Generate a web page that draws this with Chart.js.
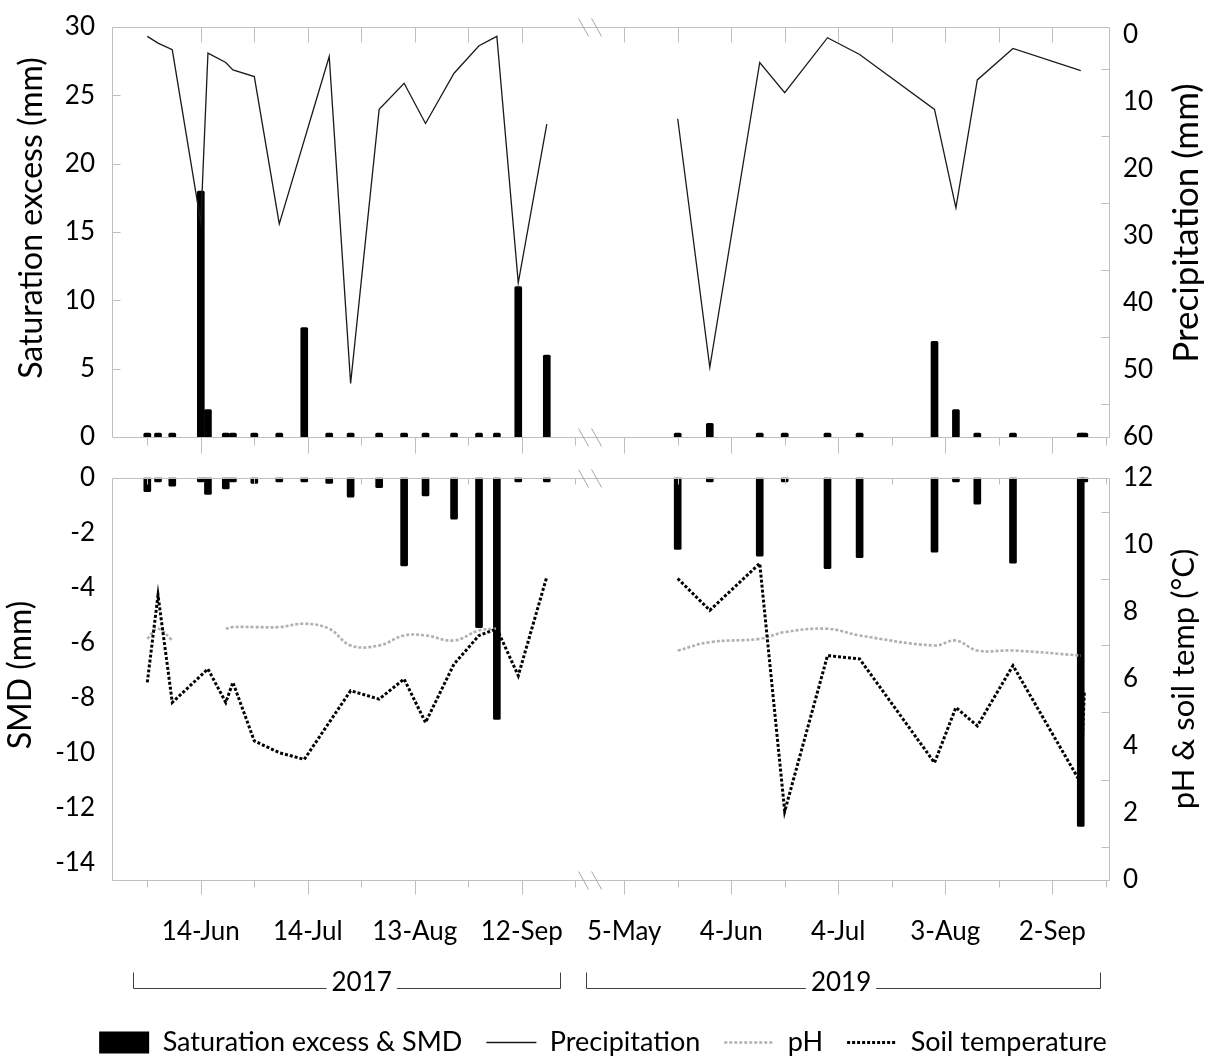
<!DOCTYPE html>
<html lang="en">
<head>
<meta charset="UTF-8">
<title>Saturation excess, SMD, precipitation, pH and soil temperature</title>
<script src="https://cdn.jsdelivr.net/npm/chart.js@4.4.1/dist/chart.umd.min.js"></script>
<style>
    body { margin: 0; background: #fff; overflow: hidden; }
    canvas { position: absolute; left: 0; }
    #topPanel { top: 0; }
    #bottomPanel { top: 460px; }
</style>
</head>
<body>
<canvas id="topPanel" width="1206" height="460"></canvas>
<canvas id="bottomPanel" width="1206" height="620"></canvas>
<script>
// sampling dates and readings, 2017 season
const dates2017 = ['2017-05-30', '2017-06-02', '2017-06-06', '2017-06-14', '2017-06-16', '2017-06-21', '2017-06-23',
    '2017-06-29', '2017-07-06', '2017-07-13', '2017-07-20', '2017-07-26', '2017-08-03', '2017-08-10',
    '2017-08-16', '2017-08-24', '2017-08-31', '2017-09-05', '2017-09-11', '2017-09-19'];
const saturation2017 = [0, 0, 0, 18, 2, 0, 0, 0, 0, 8, 0, 0, 0, 0, 0, 0, 0, 0, 11, 6];
const smd2017 = [-0.5, -0.1, -0.3, -0.1, -0.6, -0.4, -0.1, -0.2, -0.1, -0.1, -0.2, -0.7, -0.35, -3.2, -0.65, -1.5, -5.45, -8.8, -0.1, -0.1];
const precip2017 = [0.2, 1.2, 2.2, 28, 2.7, 4.1, 5.2, 6.2, 28.2, null, 3.2, 52, 11.1, 7.2, 13.2, 5.7, 1.6, 0.2, 37, 13.3];
const ph2017 = [7.2, 7.5, 7.15, null, null, 7.5, 7.55, 7.55, 7.55, 7.65, 7.5, 7.0, 7.0, 7.3, 7.3, 7.15, 7.45, 7.5, null, null];
const soilTemp2017 = [5.9, 8.5, 5.3, null, 6.3, 5.3, 5.9, 4.15, 3.8, 3.6, null, 5.65, 5.4, 6.0, 4.7, 6.45, 7.3, 7.5, 6.1, 9.05];

// 2019 season
const dates2019 = ['2019-05-20', '2019-05-29', '2019-06-12', '2019-06-19', '2019-07-01', '2019-07-10', '2019-07-31',
    '2019-08-06', '2019-08-12', '2019-08-22', '2019-09-10', '2019-09-11'];
const saturation2019 = [0, 1, 0, 0, 0, 0, 7, 2, 0, 0, 0, 0];
const smd2019 = [-2.6, -0.1, -2.85, -0.1, -3.3, -2.9, -2.7, -0.1, -0.95, -3.1, -12.7, -0.1];
const precip2019 = [12.5, 49.6, 4.1, 8.6, 0.4, 2.9, 11.1, 25.8, 6.7, 2.0, 5.3, null];
const ph2019 = [6.85, 7.1, 7.2, 7.4, 7.5, 7.3, 7.0, 7.15, 6.85, 6.85, 6.7, null];
const soilTemp2019 = [9.0, 8.05, 9.45, 2.05, 6.7, 6.6, 3.5, 5.15, 4.6, 6.4, 2.9, 5.6];

const tickLabels2017 = ['14-Jun', '14-Jul', '13-Aug', '12-Sep'];
const tickLabels2019 = ['5-May', '4-Jun', '4-Jul', '3-Aug', '2-Sep'];
const satTicks = [0, 5, 10, 15, 20, 25, 30];
const precipTicks = [0, 10, 20, 30, 40, 50, 60];
const smdTicks = [0, -2, -4, -6, -8, -10, -12, -14];
const tempTicks = [0, 2, 4, 6, 8, 10, 12];

// x axis is in days; 2019 is shifted to sit right after the break
const ORIGIN_2017 = '2017-06-14';
const ORIGIN_2019 = '2019-05-05';
const SHIFT_2019 = 118.7;
const BREAK_AT = 109;
const X_MIN = -24.9, X_MAX = 254.9;

const GREY = '#bfbfbf';
const PH_GREY = '#b0b0b0';
const FONT = 'Lato, "Open Sans", sans-serif';
Chart.defaults.font.family = FONT;
Chart.defaults.font.size = 26;
Chart.defaults.color = '#000';

function days(d, origin) {
    return Math.round((Date.parse(d) - Date.parse(origin)) / 86400000);
}
const x2017 = dates2017.map(d => days(d, ORIGIN_2017));
const x2019 = dates2019.map(d => SHIFT_2019 + days(d, ORIGIN_2019));

function points(vals17, vals19, dropGaps) {
    let a = vals17.map((v, i) => ({ x: x2017[i], y: v }));
    let b = vals19.map((v, i) => ({ x: x2019[i], y: v }));
    if (dropGaps) {
        a = a.filter(p => p.y !== null);
        b = b.filter(p => p.y !== null);
    }
    return a.concat([{ x: BREAK_AT, y: null }], b);
}

// tick marks every 15 days, labels every 30
const xTicks = [];
for (let k = -1; k <= 7; k++) {
    xTicks.push({ value: k * 15, label: (k >= 0 && k % 2 === 0) ? tickLabels2017[k / 2] : '' });
}
for (let k = 0; k <= 9; k++) {
    xTicks.push({ value: SHIFT_2019 + k * 15, label: k % 2 === 0 ? tickLabels2019[k / 2] : '' });
}

const yearBrackets = [
    { label: '2017', from: -19, to: 100.7, textAt: 45.1 },
    { label: '2019', from: 108, to: 252.1, textAt: 179.5 }
];

function rotatedText(ctx, text, x, y, size) {
    ctx.save();
    ctx.font = size + 'px ' + FONT;
    ctx.fillStyle = '#000';
    ctx.textAlign = 'center';
    ctx.textBaseline = 'middle';
    ctx.translate(x, y);
    ctx.rotate(-Math.PI / 2);
    ctx.fillText(text, 0, 0);
    ctx.restore();
}

// frame, small tick marks, axis break, axis titles and year brackets
const panelDecor = {
    id: 'panelDecor',
    afterDraw(chart, args, opts) {
        const { ctx, chartArea: a, scales } = chart;
        const xs = scales.x;
        const L = Math.round(a.left) + 0.5, R = Math.round(a.right) - 0.5;
        const T = Math.round(a.top) + 0.5, B = Math.round(a.bottom) + 0.5;
        ctx.save();
        ctx.strokeStyle = GREY;
        ctx.lineWidth = 1;
        ctx.beginPath();
        ctx.rect(L, T, R - L, B - T);
        xTicks.forEach(t => {
            const px = Math.round(xs.getPixelForValue(t.value)) + 0.5;
            ctx.moveTo(px, B);
            ctx.lineTo(px, B + (t.label ? opts.majorTick : opts.minorTick));
            if (opts.topTicks === 'all' && t.value >= 0 && t.value !== 105 && t.value < 250) {
                ctx.moveTo(px, T);
                ctx.lineTo(px, T + 15);
            } else if (opts.topTicks === 'minor' && !t.label) {
                ctx.moveTo(px, T);
                ctx.lineTo(px, T + 6);
            }
        });
        (opts.innerTicks || []).forEach(it => {
            const s = scales[it.axis];
            it.values.forEach(v => {
                const py = Math.round(s.getPixelForValue(v)) + 0.5;
                if (it.side === 'left') { ctx.moveTo(L, py); ctx.lineTo(L + 8, py); }
                else { ctx.moveTo(R - 8, py); ctx.lineTo(R, py); }
            });
        });
        ctx.stroke();

        // break marks
        const bx = xs.getPixelForValue(BREAK_AT);
        ctx.strokeStyle = '#a6a6a6';
        ctx.beginPath();
        [T, B].forEach(y => {
            [-6, 7].forEach(dx => {
                ctx.moveTo(bx + dx - 5, y - 9);
                ctx.lineTo(bx + dx + 5, y + 9);
            });
        });
        ctx.stroke();

        // axis titles, both reading bottom to top
        const mid = (a.top + a.bottom) / 2;
        opts.titles.forEach(t => rotatedText(ctx, t.text, t.x, mid + t.dy, t.size));

        // year brackets under the date labels
        if (opts.years) {
            const y = opts.years.y + 0.5;
            ctx.font = '26px ' + FONT;
            ctx.fillStyle = '#000';
            ctx.textAlign = 'center';
            ctx.textBaseline = 'middle';
            ctx.strokeStyle = '#404040';
            ctx.beginPath();
            yearBrackets.forEach(yb => {
                const x0 = Math.round(xs.getPixelForValue(yb.from)) + 0.5;
                const x1 = Math.round(xs.getPixelForValue(yb.to)) + 0.5;
                const xt = xs.getPixelForValue(yb.textAt);
                const w = ctx.measureText(yb.label).width;
                ctx.moveTo(x0, y - 16); ctx.lineTo(x0, y); ctx.lineTo(xt - w / 2 - 5, y);
                ctx.moveTo(xt + w / 2 + 5, y); ctx.lineTo(x1, y); ctx.lineTo(x1, y - 16);
                ctx.fillText(yb.label, xt, y - 6);
            });
            ctx.stroke();
        }
        ctx.restore();
    }
};

// tick labels are pushed off the axis with tickLength (marks hidden), not ticks.padding,
// so the label padding does not eat into the plot area
function yAxis(position, extra) {
    return Object.assign({
        position: position,
        grid: { display: false, drawTicks: true, tickLength: position === 'left' ? 17 : 13 },
        border: { display: false },
        ticks: { padding: 0 },
        afterFit: s => { s.width = position === 'left' ? 112 : 96; }
    }, extra);
}

// top panel: saturation excess bars and precipitation (reversed axis)
new Chart(document.getElementById('topPanel'), {
    type: 'bar',
    data: {
        datasets: [
            {
                type: 'line', label: 'Precipitation', yAxisID: 'yPrec', order: 1,
                data: points(precip2017, precip2019, true),
                borderColor: '#1a1a1a', borderWidth: 1.3, pointRadius: 0, tension: 0
            },
            {
                type: 'bar', label: 'Saturation excess', yAxisID: 'ySat', order: 2,
                data: points(saturation2017, saturation2019, true),
                backgroundColor: '#000', barThickness: 7, minBarLength: 4, borderRadius: 1.5, clip: false
            }
        ]
    },
    options: {
        responsive: false,
        animation: false,
        events: [],
        layout: { padding: { top: 27, bottom: 0, left: 0, right: 0 } },
        plugins: {
            legend: { display: false },
            tooltip: { enabled: false },
            panelDecor: {
                majorTick: 16, minorTick: 8, topTicks: 'all',
                titles: [
                    { text: 'Saturation excess (mm)', x: 32, dy: -14, size: 32 },
                    { text: 'Precipitation (mm)', x: 1187, dy: -9, size: 35 }
                ],
                innerTicks: [
                    { axis: 'ySat', side: 'left', values: [5, 10, 15, 20, 25] },
                    { axis: 'yPrec', side: 'right', values: [5, 15, 25, 35, 45, 55] }
                ]
            }
        },
        scales: {
            x: {
                type: 'linear', min: X_MIN, max: X_MAX, offset: false,
                grid: { display: false, drawTicks: false, offset: false },
                border: { display: false },
                ticks: { display: false },
                afterFit: s => { s.height = 23; }
            },
            ySat: yAxis('left', {
                min: 0, max: 30,
                afterBuildTicks: s => { s.ticks = satTicks.map(v => ({ value: v })); }
            }),
            yPrec: yAxis('right', {
                min: -1.2, max: 60, reverse: true,
                afterBuildTicks: s => { s.ticks = precipTicks.map(v => ({ value: v })); }
            })
        }
    },
    plugins: [panelDecor]
});

// bottom panel: SMD bars, pH and soil temperature
new Chart(document.getElementById('bottomPanel'), {
    type: 'bar',
    data: {
        datasets: [
            {
                type: 'line', label: 'Soil temperature', yAxisID: 'yTemp', order: 1,
                data: points(soilTemp2017, soilTemp2019, true),
                borderColor: '#000', borderWidth: 3, borderDash: [3, 2], pointRadius: 0, tension: 0
            },
            {
                type: 'line', label: 'pH', yAxisID: 'yTemp', order: 2,
                data: points(ph2017, ph2019, false),
                borderColor: PH_GREY, borderWidth: 2.6, borderDash: [3, 2], pointRadius: 0, tension: 0.4
            },
            {
                type: 'bar', label: 'SMD', yAxisID: 'ySMD', order: 3,
                data: points(smd2017, smd2019, true),
                backgroundColor: '#000', barThickness: 7, minBarLength: 4, borderRadius: 1.5, clip: false
            }
        ]
    },
    options: {
        responsive: false,
        animation: false,
        events: [],
        layout: { padding: { top: 18, bottom: 14, left: 0, right: 0 } },
        plugins: {
            tooltip: { enabled: false },
            legend: {
                position: 'bottom',
                labels: {
                    usePointStyle: true, pointStyleWidth: 50, boxHeight: 22, padding: 24,
                    font: { size: 27 }, color: '#000',
                    generateLabels: () => [
                        { text: 'Saturation excess & SMD', fillStyle: '#000', strokeStyle: '#000', lineWidth: 0, pointStyle: 'rect' },
                        { text: 'Precipitation', fillStyle: '#000', strokeStyle: '#1a1a1a', lineWidth: 1.5, pointStyle: 'line' },
                        { text: 'pH', fillStyle: PH_GREY, strokeStyle: PH_GREY, lineWidth: 2.6, lineDash: [3, 2], pointStyle: 'line' },
                        { text: 'Soil temperature', fillStyle: '#000', strokeStyle: '#000', lineWidth: 3, lineDash: [3, 2], pointStyle: 'line' }
                    ]
                }
            },
            panelDecor: {
                majorTick: 14, minorTick: 7, topTicks: 'minor',
                titles: [
                    { text: 'SMD (mm)', x: 21, dy: -4, size: 32 },
                    { text: 'pH & soil temp (°C)', x: 1184, dy: 0, size: 31 }
                ],
                years: { y: 528 },
                innerTicks: [
                    { axis: 'yTemp', side: 'right', values: [1, 3, 5, 7, 9, 11] }
                ]
            }
        },
        scales: {
            x: {
                type: 'linear', min: X_MIN, max: X_MAX, offset: false,
                grid: { display: false, drawTicks: false, offset: false },
                border: { display: false },
                afterBuildTicks: s => { s.ticks = xTicks.map(t => ({ value: t.value })); },
                ticks: {
                    autoSkip: false, maxRotation: 0, padding: 36,
                    callback: (v, i) => xTicks[i] ? xTicks[i].label : ''
                },
                afterFit: s => { s.height = 125; }
            },
            ySMD: yAxis('left', {
                min: -14.65, max: 0,
                afterBuildTicks: s => { s.ticks = smdTicks.map(v => ({ value: v })); }
            }),
            yTemp: yAxis('right', {
                min: 0, max: 12,
                afterBuildTicks: s => { s.ticks = tempTicks.map(v => ({ value: v })); }
            })
        }
    },
    plugins: [panelDecor]
});
</script>
</body>
</html>
